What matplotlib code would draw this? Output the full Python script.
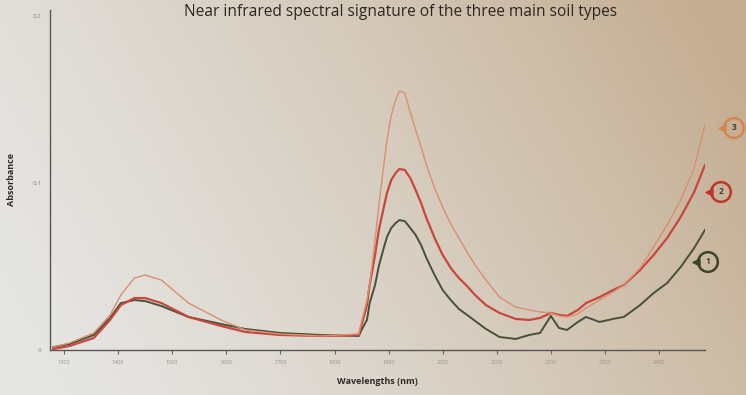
"""Near infrared spectral signature of three soil types."""

import numpy as np
import matplotlib.pyplot as plt

# Wavelengths (nm) and absorbance
wavelengths = [1280, 1310, 1355, 1385, 1405, 1430, 1450, 1480, 1530, 1590,
               1635, 1700, 1775, 1845, 1850, 1860, 1865, 1875, 1882, 1890,
               1897, 1905, 1913, 1920, 1930, 1940, 1950, 1960, 1970, 1985,
               2000, 2015, 2030, 2045, 2060, 2080, 2105, 2135, 2160, 2180,
               2200, 2215, 2230, 2250, 2265, 2290, 2315, 2335, 2365, 2390,
               2415, 2440, 2465, 2485]

soil_1 = [0.0018, 0.0036, 0.0090, 0.0192, 0.0281, 0.0299, 0.0293, 0.0263,
          0.0198, 0.0156, 0.0126, 0.0102, 0.0090, 0.0084, 0.0120, 0.0180,
          0.0281, 0.0389, 0.0503, 0.0599, 0.0677, 0.0731, 0.0760, 0.0778,
          0.0772, 0.0731, 0.0689, 0.0629, 0.0551, 0.0449, 0.0359, 0.0299,
          0.0246, 0.0210, 0.0174, 0.0126, 0.0078,
          0.0066, 0.0090, 0.0102, 0.0204, 0.0132, 0.0120, 0.0168, 0.0198,
          0.0168, 0.0186, 0.0198, 0.0269, 0.0341, 0.0401, 0.0497, 0.0611,
          0.0719]

soil_2 = [0.0006, 0.0024, 0.0072, 0.0180, 0.0269, 0.0311, 0.0311, 0.0281,
          0.0198, 0.0144, 0.0108, 0.0090, 0.0084, 0.0090, 0.0150, 0.0269,
          0.0389, 0.0569, 0.0719, 0.0838, 0.0940, 0.1018, 0.1060, 0.1084,
          0.1078, 0.1030, 0.0958, 0.0880, 0.0790, 0.0671, 0.0569, 0.0491,
          0.0431, 0.0383, 0.0329, 0.0269, 0.0222,
          0.0186, 0.0180, 0.0192, 0.0222, 0.0210, 0.0204, 0.0240, 0.0281,
          0.0317, 0.0359, 0.0389, 0.0479, 0.0569, 0.0671, 0.0796, 0.0946,
          0.1108]

soil_3 = [0.0018, 0.0042, 0.0102, 0.0210, 0.0329, 0.0431, 0.0449, 0.0419,
          0.0281, 0.0180, 0.0120, 0.0096, 0.0084, 0.0096, 0.0170, 0.0299,
          0.0389, 0.0659, 0.0868, 0.1078, 0.1257, 0.1407, 0.1497, 0.1551,
          0.1539, 0.1425, 0.1317, 0.1216, 0.1108, 0.0970, 0.0856, 0.0754,
          0.0671, 0.0587, 0.0509, 0.0419, 0.0317,
          0.0257, 0.0240, 0.0228, 0.0222, 0.0204, 0.0198, 0.0216, 0.0251,
          0.0299, 0.0347, 0.0389, 0.0491, 0.0617, 0.0749, 0.0898, 0.1090,
          0.1347]

x_ticks = [1300, 1400, 1500, 1600, 1700, 1800, 1900, 2000, 2100, 2200, 2300, 2400]
y_ticks = [0, 0.1, 0.2]
y_tick_labels = ["0", "0,1", "0,2"]
soil_labels = ["1", "2", "3"]

plt.rcParams["font.family"] = ["Open Sans", "DejaVu Sans"]

fig = plt.figure(figsize=(7.46, 3.95), dpi=100)

# Photo-like paper background: grey on the left, warm tan on the right
bg = fig.add_axes([0, 0, 1, 1], zorder=-1)
xs = np.linspace(0, 1, 256)
ys = np.linspace(0, 1, 64)
gx, gy = np.meshgrid(xs, ys)
left = np.array([0.90, 0.90, 0.89])
right = np.array([0.77, 0.68, 0.57])
t = np.clip(gx * 0.85 + gy * 0.25 - 0.05, 0, 1) ** 1.3
img = left[None, None, :] * (1 - t[..., None]) + right[None, None, :] * t[..., None]
bg.imshow(img, aspect="auto", extent=[0, 1, 0, 1], origin="lower")
bg.axis("off")

ax = fig.add_axes([50 / 746, 45 / 395, 655 / 746, 340 / 395])
ax.patch.set_alpha(0)

ax.plot(wavelengths, soil_1, color="#47503a", linewidth=1.4)
ax.plot(wavelengths, soil_2, color="#c8473c", linewidth=1.6)
ax.plot(wavelengths, soil_3, color="#d98f72", linewidth=1.0)

ax.set_xlim(1274, 2485)
ax.set_ylim(0, 0.2036)
ax.set_xticks(x_ticks)
ax.set_xticklabels([str(v) for v in x_ticks], fontsize=4, color="#9a948c")
ax.set_yticks(y_ticks)
ax.set_yticklabels(y_tick_labels, fontsize=4.5, color="#8a8680")
ax.tick_params(axis="x", length=3, width=0.8, color="#6a6660", pad=4)
ax.tick_params(axis="y", length=0, pad=6)
for side in ["top", "right"]:
    ax.spines[side].set_visible(False)
for side in ["left", "bottom"]:
    ax.spines[side].set_color("#5a5650")
    ax.spines[side].set_linewidth(1.0)

ax.set_xlabel("Wavelengths (nm)", fontsize=6.5, fontweight="bold",
              color="#2e2a26", labelpad=9)
ax.set_ylabel("Absorbance", fontsize=6.5, fontweight="bold",
              color="#2e2a26", labelpad=12)

fig.text(0.537, 0.969, "Near infrared spectral signature of the three main soil types",
         ha="center", va="center", fontsize=11.2, color="#2c2722")

# Numbered callouts at the right end of each curve
over = fig.add_axes([0, 0, 1, 1], zorder=5)
over.set_xlim(0, 746)
over.set_ylim(395, 0)
over.axis("off")
callouts = [(708, 262, "#3c4528"), (721, 192, "#c0352c"), (734, 128, "#d4864e")]
for (cx, cy, col), lab in zip(callouts, soil_labels):
    over.scatter([cx], [cy], s=200, facecolor="none", edgecolor=col, linewidth=1.8)
    over.scatter([cx - 12], [cy], s=26, marker="<", color=col)
    over.text(cx, cy, lab, ha="center", va="center", fontsize=6,
              fontweight="bold", color="#4a3a30")

fig.savefig("out.png", dpi=100)
